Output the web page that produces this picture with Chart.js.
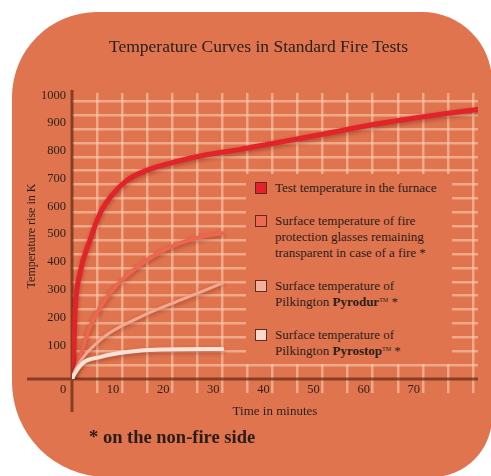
<!DOCTYPE html>
<html>
<head>
<meta charset="utf-8">
<script src="https://cdn.jsdelivr.net/npm/chart.js@4/dist/chart.umd.min.js"></script>
<style>
    html, body { margin: 0; padding: 0; background: #fff; width: 491px; height: 476px; overflow: hidden; }
    #shape {
        position: absolute; left: 12px; top: 12px; width: 480px; height: 465px;
        background: #E0744E; border-radius: 85px 70px 60px 95px;
    }
    #chart { position: absolute; left: 0; top: 0; }
    #title {
        position: absolute; left: 0; width: 517px; top: 36px; line-height: 20px;
        text-align: center; font-family: "Liberation Serif", serif; font-size: 17.5px; color: #2a201c;
    }
    #legend {
        position: absolute; left: 246px; top: 174px; width: 206px; height: 190px;
        background: #E0744E; box-sizing: border-box; padding: 6px 0 0 9px;
        font-family: "Liberation Serif", serif; font-size: 13px; line-height: 16px; color: #2a201c;
    }
    .item { position: relative; padding-left: 20px; margin-bottom: 17px; white-space: nowrap; }
    .box {
        position: absolute; left: 0; top: 2px; width: 10px; height: 10px;
        border: 1px solid #5a2e22;
    }
    sup { font-size: 6px; vertical-align: 4px; line-height: 0; }
    #note {
        position: absolute; left: 89px; top: 426px; line-height: 22px;
        font-family: "Liberation Serif", serif; font-size: 18.5px; font-weight: bold; color: #2a1d18;
    }
</style>
</head>
<body>
<div id="shape"></div>
<canvas id="chart" width="491" height="476"></canvas>
<div id="title">Temperature Curves in Standard Fire Tests</div>
<div id="legend"></div>
<div id="note">* on the non-fire side</div>
<script>
// values (time in minutes, temperature rise in K)
const furnaceTime = [0, 0.3, 0.6, 1.6, 3.6, 5.6, 8.3, 11, 15, 20.3, 26.3, 33.6, 40.2, 51, 61.6, 72.2, 81];
const furnaceTemp = [0, 60, 236, 381, 500, 597, 669, 716, 752, 781, 806, 827, 849, 885, 921, 950, 971];

const glassTime = [0, 0.8, 3.6, 7.6, 13, 19.6, 25.6, 30];
const glassTemp = [0, 35, 187, 309, 403, 475, 511, 525];

const pyrodurTime = [0, 0.6, 5.6, 13.6, 21.6, 30];
const pyrodurTemp = [0, 30, 140, 223, 284, 345];

const pyrostopTime = [0, 0.5, 2.2, 5.6, 11, 17.6, 30];
const pyrostopTemp = [0, 18, 58, 79, 97, 106, 108];

const seriesLabels = [
    "Test temperature in the furnace",
    "Surface temperature of fire<br>protection glasses remaining<br>transparent in case of a fire *",
    "Surface temperature of<br>Pilkington <b>Pyrodur</b><sup>TM</sup> *",
    "Surface temperature of<br>Pilkington <b>Pyrostop</b><sup>TM</sup> *"
];
const seriesColors = ["#E3232A", "#EE6650", "#F4A890", "#FBE2D8"];
const legendColors = ["#E8202A", "#EE6A55", "#F5B09A", "#FBD8CC"];
const lineWidths = [5, 4, 3, 4];

const xTickLabels = [0, 10, 20, 30, 40, 50, 60, 70];
const yTickLabels = [100, 200, 300, 400, 500, 600, 700, 800, 900, 1000];

function toPoints(times, temps) {
    return times.map((t, i) => ({ x: t, y: temps[i] }));
}

const seriesData = [
    toPoints(furnaceTime, furnaceTemp),
    toPoints(glassTime, glassTemp),
    toPoints(pyrodurTime, pyrodurTemp),
    toPoints(pyrostopTime, pyrostopTemp)
];

// legend box drawn as html so the bold brand names stay real text
const legendEl = document.getElementById("legend");
seriesLabels.forEach((label, i) => {
    const item = document.createElement("div");
    item.className = "item";
    item.innerHTML = '<span class="box" style="background:' + legendColors[i] + '"></span>' + label;
    legendEl.appendChild(item);
});

const gridColor = "rgba(255, 222, 196, 0.5)";

const axisLines = {
    id: "axisLines",
    beforeDatasetsDraw(chart) {
        const { ctx, chartArea, scales } = chart;
        const x0 = scales.x.getPixelForValue(0);
        const y0 = scales.y.getPixelForValue(0);
        ctx.save();
        ctx.strokeStyle = "rgba(95, 40, 20, 0.7)";
        ctx.lineWidth = 3;
        ctx.beginPath();
        ctx.moveTo(27, y0);
        ctx.lineTo(chartArea.right, y0);
        ctx.moveTo(x0, chartArea.top - 3);
        ctx.lineTo(x0, y0 + 33);
        ctx.stroke();
        ctx.restore();
    }
};

const curveShadow = {
    id: "curveShadow",
    beforeDatasetDraw(chart) {
        const ctx = chart.ctx;
        ctx.save();
        ctx.shadowColor = "rgba(100, 30, 10, 0.45)";
        ctx.shadowBlur = 4;
        ctx.shadowOffsetY = 2;
    },
    afterDatasetDraw(chart) {
        chart.ctx.restore();
    }
};

new Chart(document.getElementById("chart").getContext("2d"), {
    type: "line",
    data: {
        datasets: seriesData.map((pts, i) => ({
            label: seriesLabels[i],
            data: pts,
            borderColor: seriesColors[i],
            borderWidth: lineWidths[i],
            pointRadius: 0,
            fill: false,
            cubicInterpolationMode: "monotone",
            borderCapStyle: "round"
        })).reverse()
    },
    options: {
        responsive: false,
        animation: false,
        layout: { padding: { left: 0, right: 13, top: 93, bottom: 0 } },
        plugins: {
            legend: { display: false },
            title: { display: false },
            tooltip: { enabled: false }
        },
        scales: {
            x: {
                type: "linear",
                min: 0,
                max: 81,
                afterFit: (s) => { s.height = 97; },
                border: { display: false },
                grid: {
                    color: (c) => c.tick && c.tick.value === 0 ? "transparent" : gridColor,
                    lineWidth: 2.5,
                    drawTicks: true,
                    tickLength: 14,
                    tickColor: (c) => c.tick && c.tick.value === 0 ? "transparent" : gridColor
                },
                ticks: {
                    stepSize: 5,
                    includeBounds: false,
                    autoSkip: false,
                    maxRotation: 0,
                    padding: -11,
                    labelOffset: -9,
                    color: "#2b1f1a",
                    font: { family: "Liberation Serif", size: 12.5 },
                    callback: (v) => xTickLabels.includes(v) ? String(v) : ""
                },
                title: {
                    display: true,
                    text: "Time in minutes",
                    color: "#2b1f1a",
                    font: { family: "Liberation Serif", size: 13 },
                    padding: { top: 0, bottom: 57 }
                }
            },
            y: {
                min: 0,
                max: 1030,
                afterFit: (s) => { s.width = 72; },
                border: { display: false },
                grid: {
                    color: (c) => c.tick && c.tick.value === 0 ? "transparent" : gridColor,
                    lineWidth: 2.5,
                    drawTicks: false
                },
                ticks: {
                    stepSize: 50,
                    includeBounds: false,
                    autoSkip: false,
                    padding: 6,
                    labelOffset: -6,
                    color: "#2b1f1a",
                    font: { family: "Liberation Serif", size: 12.5 },
                    callback: (v) => yTickLabels.includes(v) ? String(v) : ""
                },
                title: {
                    display: true,
                    text: "Temperature rise in K",
                    color: "#2b1f1a",
                    font: { family: "Liberation Serif", size: 12 },
                    padding: { top: 25, bottom: 0 }
                }
            }
        }
    },
    plugins: [axisLines, curveShadow]
});
</script>
</body>
</html>
